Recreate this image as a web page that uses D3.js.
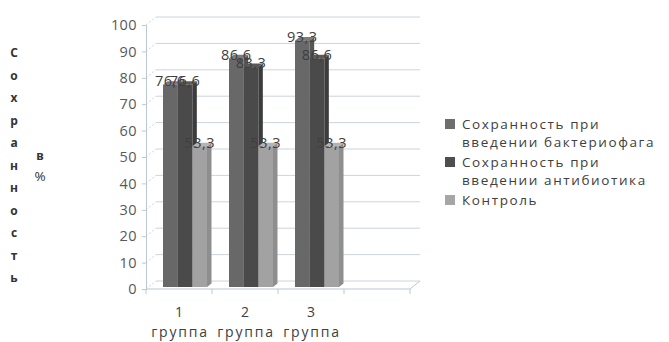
<!DOCTYPE html>
<html>
<head>
<meta charset="utf-8">
<script src="https://cdn.jsdelivr.net/npm/d3@7/dist/d3.min.js"></script>
<style>
  html, body { margin: 0; padding: 0; background: #fff; }
  svg { display: block; }
</style>
</head>
<body>
<svg id="chart" width="669" height="342"></svg>
<script>
// Survival (%) of three groups: phage treatment, antibiotic treatment, control
const categories = ["1 группа", "2 группа", "3 группа"];
const seriesNames = [
  "Сохранность при введении бактериофага",
  "Сохранность при введении антибиотика",
  "Контроль"
];
const phageValues = [76.6, 86.6, 93.3];
const antibioticValues = [76.6, 83.3, 86.6];
const controlValues = [53.3, 53.3, 53.3];
const yTicks = [0, 10, 20, 30, 40, 50, 60, 70, 80, 90, 100];
const yTitleWord = "Сохранность";
const yTitleUnit = ["в", "%"];
const legendLines = [
  ["Сохранность при", "введении бактериофага"],
  ["Сохранность при", "введении антибиотика"],
  ["Контроль"]
];

const seriesValues = [phageValues, antibioticValues, controlValues];
const fmt = v => String(v).replace(".", ",");

// colours per series: front face, top face, side face
const palette = [
  { front: "#686868", top: "#7a7a7a", side: "#555555", key: "#6e6e6e" },
  { front: "#4a4a4a", top: "#5a5a5a", side: "#3c3c3c", key: "#4e4e4e" },
  { front: "#a2a2a2", top: "#b4b4b4", side: "#8e8e8e", key: "#a6a6a6" }
];

const svg = d3.select("#chart");

// plot geometry (front plane) and 3-D depth offset of the back wall
const left = 146, floorRight = 410, depthX = 10, depthY = -8;
const y = d3.scaleLinear().domain([0, 100]).range([289, 25]);
const x = d3.scaleBand().domain(categories).range([left, 344]).paddingInner(0).paddingOuter(0);
const xs = d3.scaleBand().domain(d3.range(seriesNames.length)).range([14.5, 58.5]);

const gridColor = "#ccd4df";
const axisColor = "#bcc7d4";

// back wall gridlines
const grid = svg.append("g");
grid.selectAll("line.back")
  .data(yTicks)
  .join("line")
  .attr("x1", left + depthX).attr("x2", floorRight + depthX)
  .attr("y1", d => y(d) + depthY).attr("y2", d => y(d) + depthY)
  .attr("stroke", gridColor).attr("stroke-width", 1);

// side wall diagonals
grid.selectAll("line.side")
  .data(yTicks)
  .join("line")
  .attr("x1", left).attr("y1", d => y(d))
  .attr("x2", left + depthX).attr("y2", d => y(d) + depthY)
  .attr("stroke", gridColor).attr("stroke-width", 1)
  .attr("stroke-dasharray", "2,2");

// floor outline
grid.append("path")
  .attr("d", `M${left},${y(0)} L${floorRight},${y(0)} L${floorRight + depthX},${y(0) + depthY}`)
  .attr("fill", "none").attr("stroke", axisColor);

// value axis
const yAxis = d3.axisLeft(y).tickValues(yTicks).tickSize(4).tickPadding(5);
const gy = svg.append("g").attr("transform", `translate(${left},0)`).call(yAxis);
gy.select(".domain").attr("stroke", axisColor);
gy.selectAll(".tick line").attr("stroke", axisColor);
gy.selectAll(".tick text")
  .attr("fill", "#595959")
  .style("font-family", "'Open Sans', sans-serif")
  .style("font-size", "14.5px")
  .style("letter-spacing", "0.4px");

// category axis ticks at band boundaries (including the empty slot to the right)
const boundaries = categories.map(c => x(c)).concat([x.range()[1], floorRight]);
svg.append("g").selectAll("line")
  .data(boundaries)
  .join("line")
  .attr("x1", d => d).attr("x2", d => d)
  .attr("y1", y(0)).attr("y2", y(0) + 5)
  .attr("stroke", axisColor);

// category labels on two lines
const catLabels = svg.append("g")
  .attr("fill", "#404040")
  .style("font-family", "'Open Sans', sans-serif")
  .style("font-size", "14px")
  .attr("text-anchor", "middle");
categories.forEach(c => {
  const parts = c.split(" ");
  const cx = x(c) + x.bandwidth() / 2;
  catLabels.append("text").attr("x", cx).attr("y", 317).text(parts[0]);
  catLabels.append("text").attr("x", cx + 1).attr("y", 337)
    .style("letter-spacing", "1.8px").text(parts[1]);
});

// 3-D bars
const barDX = depthX * 0.25, barDY = depthY * 0.25;   // front face sits a quarter deep
const topDX = depthX * 0.45, topDY = depthY * 0.45;   // bar depth
const bars = svg.append("g");
const labels = [];
categories.forEach((c, ci) => {
  seriesValues.forEach((vals, si) => {
    const v = vals[ci];
    const x0 = x(c) + xs(si) + barDX;
    const w = xs.bandwidth();
    const y0 = y(v) + barDY;
    const yb = y(0) + barDY;
    const col = palette[si];
    const g = bars.append("g");
    // right side face
    g.append("path")
      .attr("d", `M${x0 + w},${yb} L${x0 + w + topDX},${yb + topDY} L${x0 + w + topDX},${y0 + topDY} L${x0 + w},${y0} Z`)
      .attr("fill", col.side);
    // top face
    g.append("path")
      .attr("d", `M${x0},${y0} L${x0 + w},${y0} L${x0 + w + topDX},${y0 + topDY} L${x0 + topDX},${y0 + topDY} Z`)
      .attr("fill", col.top);
    // front face
    g.append("rect")
      .attr("x", x0).attr("y", y0)
      .attr("width", w).attr("height", yb - y0)
      .attr("fill", col.front);
    labels.push({ x: x0 + w / 2, y: y0 + topDY, v });
  });
});

// data labels drawn above all bars
svg.append("g")
  .attr("fill", "#404040")
  .style("font-family", "'Open Sans', sans-serif")
  .style("font-size", "14.5px")
  .style("letter-spacing", "0.5px")
  .attr("text-anchor", "middle")
  .selectAll("text")
  .data(labels)
  .join("text")
  .attr("x", d => d.x)
  .attr("y", d => d.y + 5)
  .text(d => fmt(d.v));

// vertical axis title: one letter per line
const title = svg.append("g")
  .attr("fill", "#333")
  .style("font-family", "'Open Sans', sans-serif")
  .style("font-size", "12px")
  .style("font-weight", "bold")
  .attr("text-anchor", "middle");
Array.from(yTitleWord).forEach((ch, i) => {
  title.append("text").attr("x", 14).attr("y", 57 + i * 22.5).text(ch);
});
yTitleUnit.forEach((t, i) => {
  title.append("text").attr("x", 40).attr("y", 160 + i * 21)
    .style("font-weight", i === 1 ? "normal" : "bold")
    .style("font-size", i === 1 ? "13.5px" : "12px")
    .text(t);
});

// legend
const legend = svg.append("g")
  .style("font-family", "'Open Sans', sans-serif")
  .style("font-size", "13.5px")
  .attr("fill", "#404040");
const legendY = [124, 162, 200];
legendLines.forEach((lines, i) => {
  legend.append("rect")
    .attr("x", 445).attr("y", legendY[i] - 5)
    .attr("width", 10).attr("height", 10)
    .attr("fill", palette[i].key);
  lines.forEach((ln, j) => {
    legend.append("text")
      .attr("x", 462).attr("y", legendY[i] + 5 + j * 18)
      .style("letter-spacing", "1.6px")
      .text(ln);
  });
});
</script>
</body>
</html>
